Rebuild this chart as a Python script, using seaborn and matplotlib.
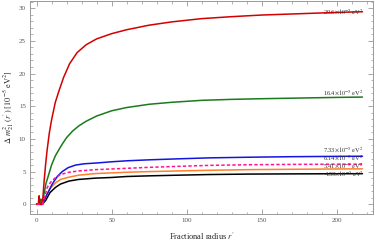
import numpy as np
import pandas as pd
import seaborn as sns
import matplotlib.pyplot as plt
from matplotlib.ticker import MultipleLocator

# curves (r', delta m^2 in 1e-5 eV^2)
r_red = [0, 1.2, 1.7, 2.2, 3.9, 5, 6, 7, 8.5, 10, 12.5, 15, 18, 22, 27, 33, 40, 50, 60, 75, 90, 110, 130, 150, 175, 200, 217]
y_red = [0, 0, 1.3, 0, 0, 3.4, 6.0, 8.2, 10.9, 12.9, 15.6, 17.4, 19.4, 21.5, 23.2, 24.4, 25.3, 26.1, 26.7, 27.4, 27.9, 28.4, 28.7, 28.95, 29.15, 29.35, 29.45]

r_green = [0, 2.5, 2.9, 3.3, 3.9, 5, 6.3, 8.3, 10, 12.5, 15, 17.1, 20, 24, 28.2, 33, 40, 50, 60, 75, 90, 110, 130, 150, 175, 200, 217]
y_green = [0, 0, 0.8, 0, 0, 1.6, 3.2, 4.7, 6.0, 7.4, 8.4, 9.2, 10.2, 11.2, 12.0, 12.7, 13.5, 14.3, 14.8, 15.3, 15.6, 15.9, 16.05, 16.15, 16.25, 16.35, 16.4]

r_blue = [0, 3.9, 5, 6.5, 8.3, 10, 11.6, 14, 17.1, 21, 26, 32, 39, 50, 60, 75, 94, 115, 142, 170, 200, 217]
y_blue = [0, 0, 0.6, 1.3, 2.1, 2.9, 3.5, 4.3, 5.0, 5.6, 6.0, 6.2, 6.3, 6.5, 6.65, 6.8, 6.95, 7.1, 7.2, 7.28, 7.33, 7.35]

r_mag = [0, 3.9, 5.5, 7.2, 9.5, 12.7, 16, 21.6, 28, 39.3, 50, 60, 75, 94, 115, 142, 170, 200, 217]
y_mag = [0, 0, 1.2, 2.6, 3.4, 4.1, 4.55, 4.9, 5.1, 5.3, 5.4, 5.5, 5.65, 5.8, 5.95, 6.05, 6.1, 6.13, 6.14]

r_orange = [0, 3.9, 6.1, 9, 12.7, 16, 21.6, 28, 39.3, 50, 60, 75, 94, 115, 142, 170, 200, 217]
y_orange = [0, 0, 1.1, 2.4, 3.3, 3.8, 4.15, 4.45, 4.7, 4.8, 4.9, 5.0, 5.1, 5.2, 5.3, 5.35, 5.4, 5.42]

r_black = [0, 3.9, 6.1, 9, 12.7, 16, 21.6, 28, 39.3, 50, 60, 75, 94, 115, 142, 170, 200, 217]
y_black = [0, 0, 0.6, 1.8, 2.6, 3.1, 3.55, 3.8, 4.0, 4.1, 4.25, 4.35, 4.45, 4.55, 4.62, 4.65, 4.67, 4.68]

labels = ["29.6", "16.4", "7.33", "6.14", "5.41", "4.59"]
label_y = [29.3, 16.9, 8.3, 6.95, 5.75, 4.5]

sns.set_style("ticks")
plt.rcParams["font.family"] = ["Liberation Serif", "DejaVu Serif"]
plt.rcParams["mathtext.fontset"] = "stix"

fig = plt.figure(figsize=(3.76, 2.43), dpi=100)
ax = fig.add_axes([0.08, 0.119, 0.912, 0.877])

curves = [
    (r_black, y_black, "black", "-"),
    (r_orange, y_orange, "#ff7f2a", "-"),
    (r_blue, y_blue, "#1414e0", "-"),
    (r_green, y_green, "#1b7a1b", "-"),
    (r_red, y_red, "#d40000", "-"),
    (r_mag, y_mag, "#ff1493", (0, (2.2, 1.4))),
]
for r, y, c, ls in curves:
    df = pd.DataFrame({"r": r, "y": y})
    sns.lineplot(data=df, x="r", y="y", ax=ax, color=c, linewidth=1.1,
                 linestyle=ls, estimator=None)

for lab, ly in zip(labels, label_y):
    ax.text(218, ly, lab + r"$\times 10^{-5}\ \mathrm{eV}^2$", ha="right",
            va="center", fontsize=4.6, color="#333333")

ax.set_xlim(-4.3, 224)
ax.set_ylim(-1.5, 31.1)
ax.xaxis.set_major_locator(MultipleLocator(50))
ax.xaxis.set_minor_locator(MultipleLocator(10))
ax.yaxis.set_major_locator(MultipleLocator(5))
ax.yaxis.set_minor_locator(MultipleLocator(1))
ax.tick_params(which="both", direction="in", top=True, right=True,
               color="#999999", labelsize=5, labelcolor="#555555", pad=3)
ax.tick_params(which="major", length=3.5, width=0.6)
ax.tick_params(which="minor", length=1.8, width=0.5)
for s in ax.spines.values():
    s.set_color("#999999")
    s.set_linewidth(0.7)

ax.set_xlabel(r"Fractional radius $r^{\prime}$", fontsize=6, labelpad=5)
ax.set_ylabel(r"$\Delta\ m^2_{21}\ (r^{\prime})\ [10^{-5}\ \mathrm{eV}^2]$",
              fontsize=6, labelpad=2)

fig.savefig("out.png", dpi=100)
